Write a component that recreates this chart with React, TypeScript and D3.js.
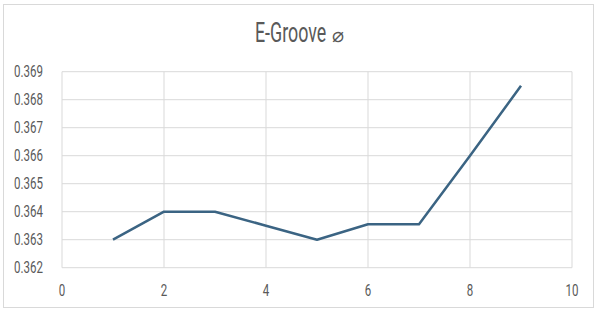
import React from "react";
import * as d3 from "d3";

const xValues = [1, 2, 3, 4, 5, 6, 7, 8, 9];
const yValues = [0.363, 0.364, 0.364, 0.3635, 0.363, 0.36355, 0.36355, 0.366, 0.3685];
const xTicks = [0, 2, 4, 6, 8, 10];
const yTicks = [0.362, 0.363, 0.364, 0.365, 0.366, 0.367, 0.368, 0.369];
const title = "E-Groove";

export default function App() {
  const W = 600, H = 315;
  const x = d3.scaleLinear().domain([0, 10]).range([62, 572]);
  const y = d3.scaleLinear().domain([0.362, 0.369]).range([267.7, 71.7]);
  const line = d3.line<number>().x((_, i) => x(xValues[i])).y((d) => y(d));
  const font = "Roboto, 'Noto Sans', sans-serif";
  const grid = "#d9d9d9";
  const txt = "#595959";
  return (
    <svg width={W} height={H} style={{ position: "absolute", left: 0, top: 0 }}>
      <rect x={0} y={0} width={W} height={H} fill="#fff" />
      <rect x={3.5} y={4.5} width={590} height={303} fill="#fff" stroke={grid} strokeWidth={1} />
      {xTicks.map((t) => (
        <line key={"gx" + t} x1={x(t)} x2={x(t)} y1={y(0.369)} y2={y(0.362)} stroke={grid} strokeWidth={1} />
      ))}
      {yTicks.map((t) => (
        <line key={"gy" + t} x1={x(0)} x2={x(10)} y1={y(t)} y2={y(t)} stroke={grid} strokeWidth={1} />
      ))}
      {yTicks.map((t) => (
        <text
          key={"ly" + t}
          transform={`translate(43,${y(t) + 5.5}) scale(0.72,1)`}
          textAnchor="end"
          fontFamily={font}
          fontSize={16}
          fill={txt}
        >
          {d3.format(".3f")(t)}
        </text>
      ))}
      {xTicks.map((t) => (
        <text
          key={"lx" + t}
          transform={`translate(${x(t)},${296}) scale(0.72,1)`}
          textAnchor="middle"
          fontFamily={font}
          fontSize={16}
          fill={txt}
        >
          {t}
        </text>
      ))}
      <path d={line(yValues) || ""} fill="none" stroke="#3b6483" strokeWidth={2.5} strokeLinejoin="round" />
      <text transform="translate(255,41.7) scale(0.66,1)" fontFamily={font} fontSize={27} fill={txt}>
        {title}
      </text>
      <text x={332} y={41.7} fontFamily="'DejaVu Sans', sans-serif" fontSize={20} fill={txt}>
        ⌀
      </text>
    </svg>
  );
}
